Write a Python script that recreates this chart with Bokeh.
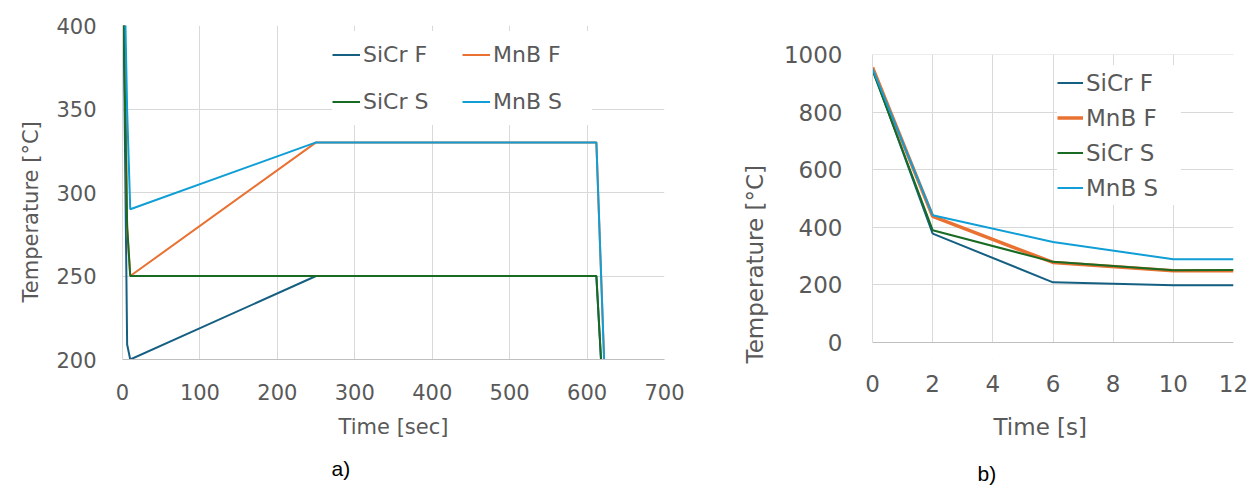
from bokeh.plotting import figure
from bokeh.models import (Range1d, FixedTicker, Legend, LegendItem, Title,
                          BoxAnnotation, Span)
from bokeh.layouts import row
from bokeh.embed import file_html
from bokeh.resources import INLINE

# ---------------- data: chart a) ----------------
a_sicr_f_t = [0, 2, 6, 10, 250, 612, 618]
a_sicr_f_T = [950, 378, 209, 200, 250, 250, 200]
a_mnb_f_t = [0, 2, 6, 10, 250, 612, 622]
a_mnb_f_T = [955, 438, 278, 250, 330, 330, 200]
a_sicr_s_t = [0, 2, 6, 10, 612, 618]
a_sicr_s_T = [945, 390, 280, 250, 250, 200]
a_mnb_s_t = [0, 2, 6, 10, 250, 612, 622]
a_mnb_s_T = [950, 442, 349, 290, 330, 330, 200]
a_xticks = [0, 100, 200, 300, 400, 500, 600, 700]
a_yticks = [200, 250, 300, 350, 400]

# ---------------- data: chart b) ----------------
b_t = [0, 2, 6, 10, 12]
b_sicr_f = [950, 378, 209, 199, 199]
b_mnb_f = [955, 438, 278, 249, 249]
b_sicr_s = [945, 390, 280, 251, 252]
b_mnb_s = [950, 442, 349, 289, 289]
b_xticks = [0, 2, 4, 6, 8, 10, 12]
b_yticks = [0, 200, 400, 600, 800, 1000]
b_ymin, b_ymax = 0, 1000

names = ["SiCr F", "MnB F", "SiCr S", "MnB S"]
colors = ["#156082", "#E97132", "#196B24", "#0F9ED5"]

FONT = "DejaVu Sans"
TXT = "#595959"
GRID = "#D9D9D9"


def style(p, fs, xstand, ystand):
    p.outline_line_color = None
    p.background_fill_color = "white"
    p.border_fill_color = "white"
    for ax in (p.xaxis[0], p.yaxis[0]):
        ax.major_tick_line_color = None
        ax.minor_tick_line_color = None
        ax.major_label_text_font = FONT
        ax.major_label_text_font_size = fs
        ax.major_label_text_color = TXT
        ax.axis_label_text_font = FONT
        ax.axis_label_text_font_size = fs
        ax.axis_label_text_color = TXT
        ax.axis_label_text_font_style = "normal"
    p.xaxis[0].axis_line_color = "#BFBFBF"
    p.yaxis[0].axis_line_color = GRID
    p.xaxis[0].major_label_standoff = xstand
    p.yaxis[0].major_label_standoff = ystand
    p.xgrid.grid_line_color = GRID
    p.ygrid.grid_line_color = GRID


def side_title(text, fs, offset, standoff, loc_font=FONT, color=TXT):
    return Title(text=text, align="left", offset=offset, standoff=standoff,
                 text_font=loc_font, text_font_size=fs, text_color=color,
                 text_font_style="normal")


# page has no margin (bokeh template); common frame rows 25..359
H = 493
TOP = 25
BOTTOM = 134

# ---------------- figure a) ----------------
pa = figure(width=700, height=H, output_backend="svg", toolbar_location=None,
            x_range=Range1d(0, 700), y_range=Range1d(200, 400),
            min_border_left=122, min_border_right=36, min_border_top=TOP,
            min_border_bottom=BOTTOM, x_axis_label="Time [sec]")
pa.xaxis.ticker = FixedTicker(ticks=a_xticks)
pa.yaxis.ticker = FixedTicker(ticks=a_yticks)
style(pa, "21px", 18, 20)
pa.xaxis[0].axis_label_standoff = 12

ra = []
for (t, T), c in zip([(a_sicr_f_t, a_sicr_f_T), (a_mnb_f_t, a_mnb_f_T),
                      (a_sicr_s_t, a_sicr_s_T), (a_mnb_s_t, a_mnb_s_T)], colors):
    ra.append(pa.line(t, T, line_color=c, line_width=2))

leg_a = Legend(items=[LegendItem(label=n, renderers=[r]) for n, r in zip(names, ra)],
               orientation="horizontal", ncols=2, location=(210, 234),
               padding=1, spacing=0, margin=0,
               glyph_width=28, glyph_height=47, label_height=47, label_width=99,
               label_standoff=3, label_text_font=FONT, label_text_font_size="22px",
               label_text_color=TXT, border_line_color=None,
               background_fill_color="white", background_fill_alpha=1.0)
pa.add_layout(leg_a, "center")
pa.add_layout(side_title("Temperature [°C]", "21px", 57, 22), "left")
pa.add_layout(side_title("a)", "21px", 209, 27, "Liberation Sans", "black"), "below")

# ---------------- figure b) ----------------
# frame shares page rows 25..359 with a); data 0..1000 sits on rows 54..342
px_per_unit = (342 - 54) / (b_ymax - b_ymin)
pb = figure(width=557, height=H, output_backend="svg", toolbar_location=None,
            x_range=Range1d(0, 12),
            y_range=Range1d(b_ymin - (359 - 342) / px_per_unit,
                            b_ymax + (54 - 25) / px_per_unit),
            min_border_left=172, min_border_right=24, min_border_top=TOP,
            min_border_bottom=BOTTOM)
pb.xaxis.ticker = FixedTicker(ticks=b_xticks)
pb.yaxis.ticker = FixedTicker(ticks=b_yticks)
style(pb, "23px", 9, 24)
pb.xaxis[0].axis_line_color = None
pb.yaxis[0].bounds = (b_ymin, b_ymax)

pb.add_layout(BoxAnnotation(bottom=b_ymax, fill_color="white", fill_alpha=1.0,
                            line_color=None))
pb.add_layout(BoxAnnotation(top=b_ymin, fill_color="white", fill_alpha=1.0,
                            line_color=None))
pb.add_layout(Span(location=b_ymin, dimension="width", line_color="#BFBFBF",
                   line_width=1))

rb = []
for vals, c, w in zip([b_sicr_f, b_mnb_f, b_sicr_s, b_mnb_s], colors, [2, 3.5, 2, 2]):
    rb.append(pb.line(b_t, vals, line_color=c, line_width=w))

leg_b = Legend(items=[LegendItem(label=n, renderers=[r]) for n, r in zip(names, rb)],
               orientation="vertical", location=(185, 154),
               padding=8, spacing=0, margin=0,
               glyph_width=26, glyph_height=35, label_height=35, label_width=95,
               label_standoff=3, label_text_font=FONT, label_text_font_size="23px",
               label_text_color=TXT, border_line_color=None,
               background_fill_color="white", background_fill_alpha=1.0)
pb.add_layout(leg_b, "center")
pb.add_layout(side_title("Temperature [°C]", "23px", -4, 26), "left")
pb.add_layout(side_title("Time [s]", "23px", 121, 35), "below")
pb.add_layout(side_title("b)", "21px", 105, 4, "Liberation Sans", "black"), "below")

layout = row(pa, pb)
open("out.html", "w").write(file_html(layout, INLINE))
